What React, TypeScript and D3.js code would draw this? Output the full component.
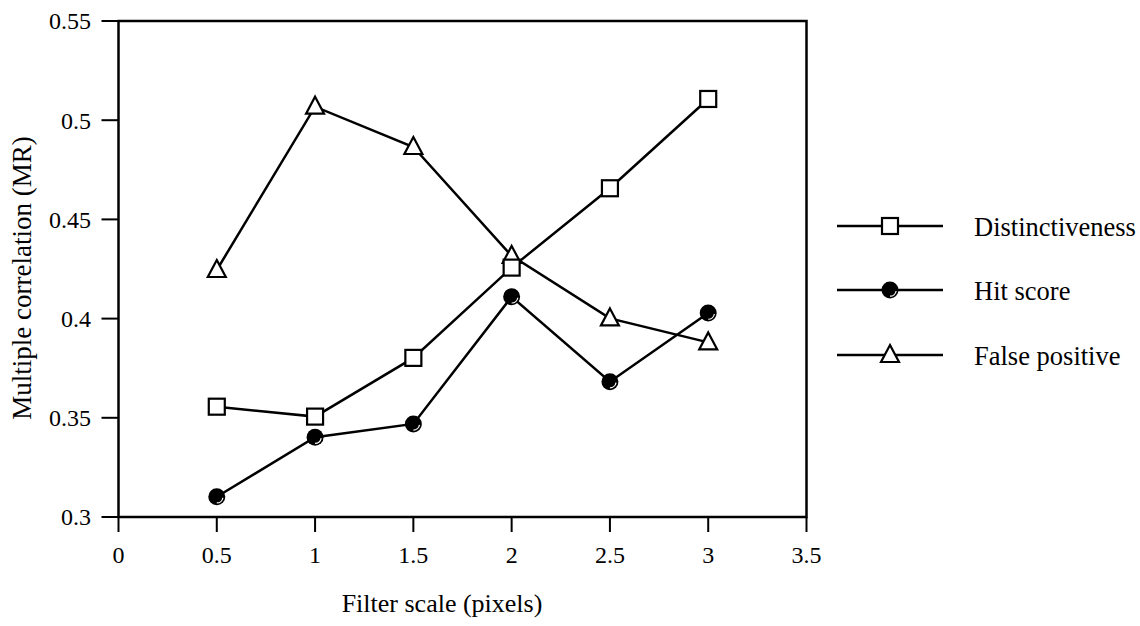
import * as d3 from "d3";
import React from "react";

const scales = [0.5, 1, 1.5, 2, 2.5, 3];
const distinctiveness = [0.3556, 0.3506, 0.3802, 0.4257, 0.4657, 0.5107];
const hitScore = [0.3102, 0.3402, 0.3469, 0.411, 0.3682, 0.4028];
const falsePositive = [0.4245, 0.5068, 0.4865, 0.4316, 0.4001, 0.388];
const xTicks = [0, 0.5, 1, 1.5, 2, 2.5, 3, 3.5];
const yTicks = [0.3, 0.35, 0.4, 0.45, 0.5, 0.55];
const seriesNames = ["Distinctiveness", "Hit score", "False positive"];

const W = 1140;
const H = 626;
const left = 118.5;
const right = 806.5;
const top = 21;
const bottom = 517;
const font = "Liberation Serif, Times New Roman, serif";

const x = d3.scaleLinear().domain([0, 3.5]).range([left, right]);
const y = d3.scaleLinear().domain([0.3, 0.55]).range([bottom, top]);

function Marker({ kind, cx, cy }: { kind: string; cx: number; cy: number }) {
  if (kind === "square") {
    return <rect x={cx - 8} y={cy - 8} width={16} height={16} fill="white" stroke="black" strokeWidth={2.2} />;
  }
  if (kind === "triangle") {
    const pts = [[cx, cy - 10], [cx + 9, cy + 7], [cx - 9, cy + 7]];
    return <polygon points={pts.map((p) => p.join(",")).join(" ")} fill="white" stroke="black" strokeWidth={2.2} strokeLinejoin="miter" />;
  }
  const hl = d3.arc()({ innerRadius: 5.6, outerRadius: 6.8, startAngle: Math.PI * 0.55, endAngle: Math.PI * 1.0 }) as string;
  return (
    <g>
      <circle cx={cx} cy={cy} r={8.5} fill="black" />
      <path d={hl} transform={`translate(${cx},${cy})`} fill="white" />
    </g>
  );
}

export default function App() {
  const line = d3
    .line<number>()
    .x((_, i) => x(scales[i]))
    .y((d) => y(d));
  const series = [
    { name: seriesNames[0], values: distinctiveness, kind: "square" },
    { name: seriesNames[1], values: hitScore, kind: "circle" },
    { name: seriesNames[2], values: falsePositive, kind: "triangle" },
  ];
  // squares sit on top of the triangles where they meet at 2
  const drawOrder = [...series].reverse();
  const legendY = [226, 290, 355];

  return (
    <svg width={W} height={H} style={{ position: "absolute", left: 0, top: 0 }} fontFamily={font}>
      <rect width={W} height={H} fill="white" />
      {/* frame */}
      <path d={`M${left},${top}H${right}V${bottom}H${left}Z`} fill="none" stroke="black" strokeWidth={2.5} />
      {yTicks.map((t) => (
        <g key={"y" + t}>
          <line x1={left - 17} x2={left} y1={y(t)} y2={y(t)} stroke="black" strokeWidth={2} />
          <text x={91} y={y(t)} dy="0.35em" textAnchor="end" fontSize={24}>
            {t}
          </text>
        </g>
      ))}
      {xTicks.map((t) => (
        <g key={"x" + t}>
          <line x1={x(t)} x2={x(t)} y1={bottom} y2={bottom + 15} stroke="black" strokeWidth={2} />
          <text x={x(t)} y={563} textAnchor="middle" fontSize={24}>
            {t}
          </text>
        </g>
      ))}
      <text x={442} y={612} textAnchor="middle" fontSize={26}>
        Filter scale (pixels)
      </text>
      <text transform={`translate(31,278) rotate(-90)`} textAnchor="middle" fontSize={27}>
        Multiple correlation (MR)
      </text>
      {drawOrder.map((s) => (
        <g key={s.name}>
          <path d={line(s.values) as string} fill="none" stroke="black" strokeWidth={2.5} />
          {s.values.map((v, i) => (
            <Marker key={i} kind={s.kind} cx={x(scales[i])} cy={y(v)} />
          ))}
        </g>
      ))}
      {series.map((s, i) => (
        <g key={"lg" + s.name}>
          <line x1={837} x2={943} y1={legendY[i]} y2={legendY[i]} stroke="black" strokeWidth={2.5} />
          <Marker kind={s.kind} cx={890} cy={legendY[i]} />
          <text x={974} y={legendY[i]} dy="0.38em" fontSize={26.5}>
            {s.name}
          </text>
        </g>
      ))}
    </svg>
  );
}
